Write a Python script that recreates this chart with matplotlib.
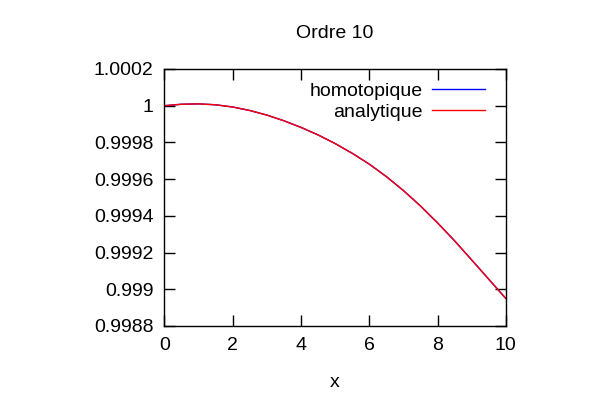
import matplotlib
matplotlib.use("Agg")
import matplotlib.pyplot as plt

# values (both solutions almost identical)
x_vals = [0, 0.5, 1, 1.5, 2, 2.5, 3, 3.5, 4, 4.5, 5,
          5.5, 6, 6.5, 7, 7.5, 8, 8.5, 9, 9.5, 10]
homotopique = [1.000000, 1.000008, 1.000010, 1.000005, 0.999993, 0.999974,
               0.999949, 0.999918, 0.999882, 0.999841, 0.999794, 0.999741,
               0.999682, 0.999614, 0.999538, 0.999454, 0.999362, 0.999264,
               0.999160, 0.999055, 0.998950]
analytique = [1.000000, 1.000008, 1.000010, 1.000005, 0.999993, 0.999974,
              0.999949, 0.999918, 0.999882, 0.999841, 0.999794, 0.999741,
              0.999682, 0.999614, 0.999538, 0.999454, 0.999362, 0.999264,
              0.999160, 0.999055, 0.998950]

y_ticks = [0.9988, 0.999, 0.9992, 0.9994, 0.9996, 0.9998, 1.0, 1.0002]
y_labels = ["0.9988", "0.999", "0.9992", "0.9994", "0.9996", "0.9998", "1", "1.0002"]
x_ticks = [0, 2, 4, 6, 8, 10]

plt.rcParams["font.family"] = ["Liberation Sans", "DejaVu Sans"]
plt.rcParams["font.size"] = 14

fig = plt.figure(figsize=(6, 4), dpi=100)
ax = fig.add_axes([0.274, 0.185, 0.569, 0.6425])

ax.plot(x_vals, homotopique, color="#0000ff", lw=1, label="homotopique")
ax.plot(x_vals, analytique, color="#ff0000", lw=1, label="analytique")

ax.set_xlim(0, 10)
ax.set_ylim(0.9988, 1.0002)
ax.set_xticks(x_ticks)
ax.set_xticklabels([str(t) for t in x_ticks])
ax.set_yticks(y_ticks)
ax.set_yticklabels(y_labels)
ax.tick_params(direction="in", length=8, width=1, top=True, right=True, pad=8)
for s in ax.spines.values():
    s.set_linewidth(1)

ax.set_xlabel("x", labelpad=14)
ax.set_title("Ordre 10", fontsize=14, pad=22)

ax.legend(loc="upper right", frameon=False, markerfirst=False,
          handlelength=2.7, handletextpad=0.5, labelspacing=0.15,
          borderaxespad=0.2, bbox_to_anchor=(0.972, 0.993))

fig.savefig("out.png", dpi=100)
